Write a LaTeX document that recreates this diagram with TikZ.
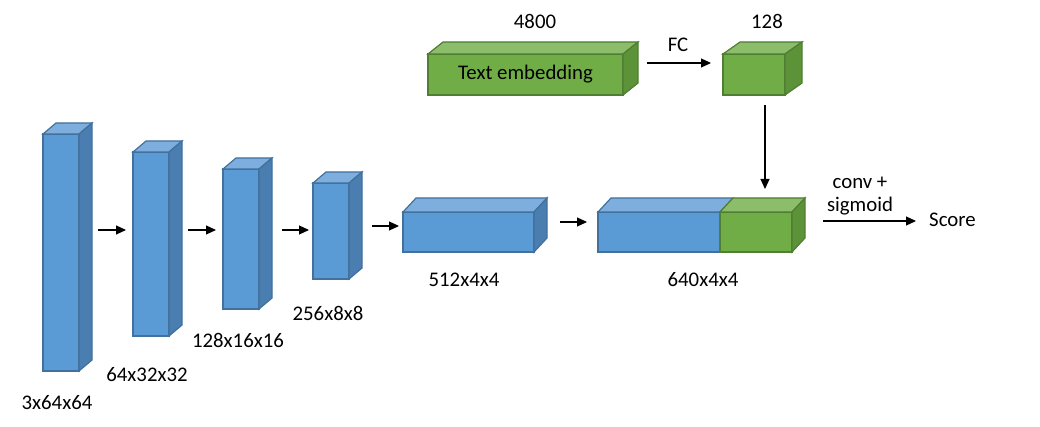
\documentclass[tikz,border=0pt]{standalone}
\usepackage{fontspec}
\setmainfont{Carlito}
\usetikzlibrary{arrows.meta}
\definecolor{bfront}{HTML}{5B9BD5}
\definecolor{btop}{HTML}{7EAEDE}
\definecolor{bside}{HTML}{4A7EB0}
\definecolor{bborder}{HTML}{41719C}
\definecolor{gfront}{HTML}{70AD47}
\definecolor{gtop}{HTML}{8CBD6A}
\definecolor{gside}{HTML}{5C9238}
\definecolor{gborder}{HTML}{507E32}
\tikzset{
  face/.style={line width=1.2pt, line join=miter},
  lbl/.style={font=\fontsize{20.8}{25}\selectfont, inner sep=0pt},
  arr/.style={line width=1.1pt, -{Triangle[length=10pt,width=9pt]}},
}
% name, x, y, w, h, dx, dy, colour prefix
\newcommand{\mycube}[8]{%
  \node[face, draw=#8border, fill=#8front, minimum width=#4pt, minimum height=#5pt,
        anchor=north west, inner sep=0pt, outer sep=0pt] (#1) at (#2,#3) {};
  \draw[face, draw=#8border, fill=#8top] (#1.north west) -- ++(#6,-#7) -- ++(#4,0) -- (#1.north east) -- cycle;
  \draw[face, draw=#8border, fill=#8side] (#1.north east) -- ++(#6,-#7) -- ++(0,#5) -- (#1.south east) -- cycle;
}
\begin{document}
\begin{tikzpicture}[x=1pt,y=-1pt]
\useasboundingbox (0,0) rectangle (1040,427);
\fill[white] (0,0) rectangle (1040,427);
% encoder blocks
\mycube{b1}{43}{134}{36}{237}{13}{11}{b}
\mycube{b2}{133}{152}{36}{184}{13}{11}{b}
\mycube{b3}{223}{169}{36}{140}{13}{11}{b}
\mycube{b4}{313}{183}{36}{96}{13}{11}{b}
\mycube{b5}{403}{212}{131}{40}{13}{14}{b}
% concatenated block
\node[face, draw=bborder, fill=bfront, minimum width=122pt, minimum height=40pt,
      anchor=north west, inner sep=0pt, outer sep=0pt] (b6a) at (598,212) {};
\draw[face, draw=bborder, fill=btop] (b6a.north west) -- ++(13,-14) -- ++(122,0) -- (b6a.north east) -- cycle;
\mycube{b6b}{720}{212}{72}{40}{13}{14}{g}
% text embedding blocks
\mycube{te}{428}{54}{195}{41}{15}{12}{g}
\node[lbl] (tetext) at (te.center) {Text embedding};
\mycube{g128}{723}{54}{62}{41}{17}{12}{g}
% labels
\node[lbl] (l1) at (57,403) {3x64x64};
\node[lbl] (l2) at (147,375) {64x32x32};
\node[lbl] (l3) at (238,340) {128x16x16};
\node[lbl] (l4) at (328,313) {256x8x8};
\node[lbl] (l5) at (464,280) {512x4x4};
\node[lbl] (l6) at (703,280) {640x4x4};
\node[lbl] (l7) at (535,21) {4800};
\node[lbl] (l8) at (767,21) {128};
\node[lbl] (fc) at (678,45) {FC};
\node[lbl] (conv) at (860,183) {conv +};
\node[lbl] (sig) at (860,206) {sigmoid};
\node[lbl, anchor=west] (score) at (929,220) {Score};
% arrow end points
\coordinate (a1s) at (98,230);  \coordinate (a1e) at (126,230);
\coordinate (a2s) at (188,230); \coordinate (a2e) at (216,230);
\coordinate (a3s) at (282,230); \coordinate (a3e) at (309,230);
\coordinate (a4s) at (372,226); \coordinate (a4e) at (399,226);
\coordinate (a5s) at (560,222); \coordinate (a5e) at (587,222);
\coordinate (fcs) at (647,63);  \coordinate (fce) at (711,63);
\coordinate (dns) at (765,105); \coordinate (dne) at (765,189);
\coordinate (scs) at (823,221); \coordinate (sce) at (916,221);
\draw[arr] (a1s) -- (a1e);
\draw[arr] (a2s) -- (a2e);
\draw[arr] (a3s) -- (a3e);
\draw[arr] (a4s) -- (a4e);
\draw[arr] (a5s) -- (a5e);
\draw[arr] (fcs) -- (fce);
\draw[arr] (dns) -- (dne);
\draw[arr] (scs) -- (sce);
\end{tikzpicture}
\end{document}
